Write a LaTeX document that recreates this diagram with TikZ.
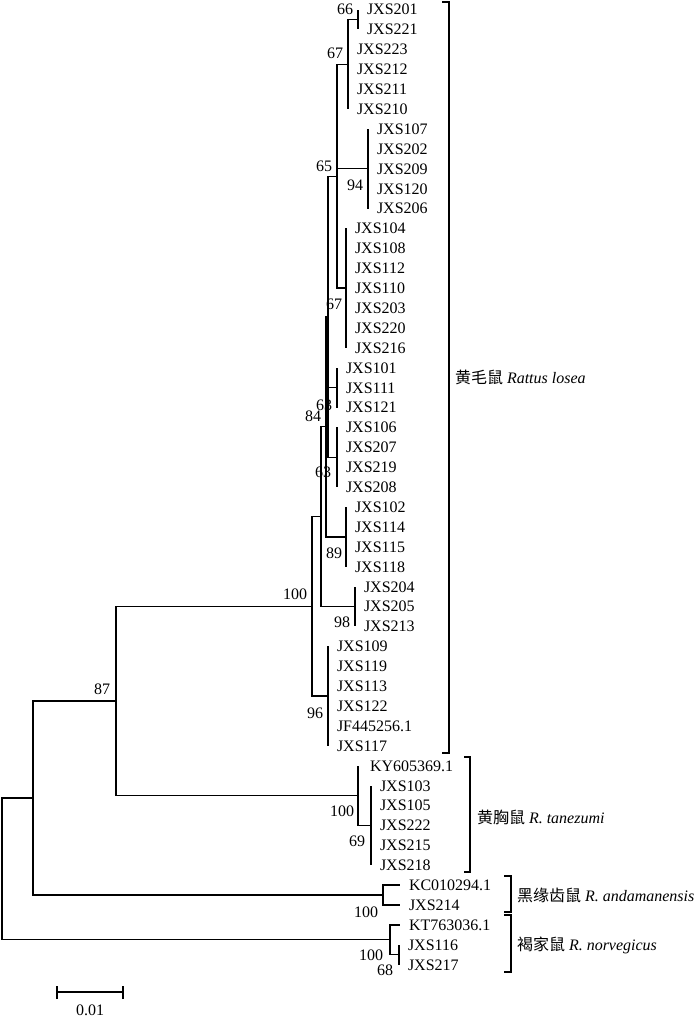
\documentclass[tikz,border=0pt]{standalone}
\usepackage{fontspec}
\setmainfont{Liberation Serif}
\newfontfamily\cjk{Noto Sans CJK SC}
\begin{document}
\begin{tikzpicture}[x=1pt,y=-1pt,
  br/.style={line width=1.3pt, draw=black},
  tip/.style={anchor=west, inner xsep=9pt, inner ysep=0pt, outer sep=0pt,
    text height=10.8pt, text depth=0pt, font=\fontsize{16}{18}\selectfont},
  bs/.style={anchor=east, inner sep=0pt, outer sep=0pt,
    text height=10.8pt, text depth=0pt, font=\fontsize{16}{18}\selectfont},
  lab/.style={anchor=west, inner sep=0pt, outer sep=0pt, font=\fontsize{16}{18}\selectfont}]
\useasboundingbox (0,0) rectangle (700,1021);

% ---------- tips ----------
\node[tip] (t0)  at (358,9.5)   {JXS201};
\node[tip] (t1)  at (358,29.4)  {JXS221};
\node[tip] (t2)  at (348,49.3)  {JXS223};
\node[tip] (t3)  at (348,69.2)  {JXS212};
\node[tip] (t4)  at (348,89.1)  {JXS211};
\node[tip] (t5)  at (348,109.0) {JXS210};
\node[tip] (t6)  at (368,128.9) {JXS107};
\node[tip] (t7)  at (368,148.8) {JXS202};
\node[tip] (t8)  at (368,168.7) {JXS209};
\node[tip] (t9)  at (368,188.6) {JXS120};
\node[tip] (t10) at (368,208.5) {JXS206};
\node[tip] (t11) at (346,228.4) {JXS104};
\node[tip] (t12) at (346,248.3) {JXS108};
\node[tip] (t13) at (346,268.2) {JXS112};
\node[tip] (t14) at (346,288.1) {JXS110};
\node[tip] (t15) at (346,308.0) {JXS203};
\node[tip] (t16) at (346,327.9) {JXS220};
\node[tip] (t17) at (346,347.8) {JXS216};
\node[tip] (t18) at (337,367.7) {JXS101};
\node[tip] (t19) at (337,387.6) {JXS111};
\node[tip] (t20) at (337,407.5) {JXS121};
\node[tip] (t21) at (337,427.4) {JXS106};
\node[tip] (t22) at (337,447.3) {JXS207};
\node[tip] (t23) at (337,467.2) {JXS219};
\node[tip] (t24) at (337,487.1) {JXS208};
\node[tip] (t25) at (346,507.0) {JXS102};
\node[tip] (t26) at (346,526.9) {JXS114};
\node[tip] (t27) at (346,546.8) {JXS115};
\node[tip] (t28) at (346,566.7) {JXS118};
\node[tip] (t29) at (355,586.6) {JXS204};
\node[tip] (t30) at (355,606.5) {JXS205};
\node[tip] (t31) at (355,626.4) {JXS213};
\node[tip] (t32) at (328,646.3) {JXS109};
\node[tip] (t33) at (328,666.2) {JXS119};
\node[tip] (t34) at (328,686.1) {JXS113};
\node[tip] (t35) at (328,706.0) {JXS122};
\node[tip] (t36) at (328,725.9) {JF445256.1};
\node[tip] (t37) at (328,745.8) {JXS117};
\node[tip, inner xsep=12pt] (t38) at (358,765.7) {KY605369.1};
\node[tip] (t39) at (371,785.6) {JXS103};
\node[tip] (t40) at (371,805.5) {JXS105};
\node[tip] (t41) at (371,825.4) {JXS222};
\node[tip] (t42) at (371,845.3) {JXS215};
\node[tip] (t43) at (371,865.2) {JXS218};
\node[tip] (t44) at (400,885.1) {KC010294.1};
\node[tip] (t45) at (400,905.0) {JXS214};
\node[tip] (t46) at (400,924.9) {KT763036.1};
\node[tip] (t47) at (399,944.8) {JXS116};
\node[tip] (t48) at (399,964.7) {JXS217};

% ---------- internal nodes ----------
\coordinate (A)    at (358,19.45);
\coordinate (B)    at (348,64.2);
\coordinate (C)    at (368,168.7);
\coordinate (E)    at (346,288.1);
\coordinate (D)    at (337,176.15);
\coordinate (G1)   at (337,387.6);
\coordinate (G2)   at (337,457.25);
\coordinate (J)    at (328,316.7);
\coordinate (H)    at (346,536.85);
\coordinate (N84)  at (326,426.8);
\coordinate (K)    at (355,606.5);
\coordinate (L)    at (321,516.65);
\coordinate (M)    at (328,696.05);
\coordinate (P)    at (312,606.35);
\coordinate (T69)  at (371,825.4);
\coordinate (T100) at (358,795.55);
\coordinate (Q)    at (116,700.95);
\coordinate (AND)  at (383,895.05);
\coordinate (R)    at (33,798);
\coordinate (N68)  at (399,954.75);
\coordinate (NOR)  at (390,939.8);
\coordinate (ROOT) at (2,868.9);

% ---------- branches ----------
\draw[br] (A) |- (t0.west) (A) |- (t1.west);
\draw[br] (B) |- (A) (B) |- (t2.west) (B) |- (t3.west) (B) |- (t4.west) (B) |- (t5.west);
\draw[br] (C) |- (t6.west) (C) |- (t7.west) (C) |- (t8.west) (C) |- (t9.west) (C) |- (t10.west);
\draw[br] (E) |- (t11.west) (E) |- (t12.west) (E) |- (t13.west) (E) |- (t14.west)
          (E) |- (t15.west) (E) |- (t16.west) (E) |- (t17.west);
\draw[br] (D) |- (B) (D) |- (C) (D) |- (E);
\draw[br] (G1) |- (t18.west) (G1) |- (t19.west) (G1) |- (t20.west);
\draw[br] (G2) |- (t21.west) (G2) |- (t22.west) (G2) |- (t23.west) (G2) |- (t24.west);
\draw[br] (J) |- (D) (J) |- (G1) (J) |- (G2);
\draw[br] (H) |- (t25.west) (H) |- (t26.west) (H) |- (t27.west) (H) |- (t28.west);
\draw[br] (N84) |- (J) (N84) |- (H);
\draw[br] (K) |- (t29.west) (K) |- (t30.west) (K) |- (t31.west);
\draw[br] (L) |- (N84) (L) |- (K);
\draw[br] (M) |- (t32.west) (M) |- (t33.west) (M) |- (t34.west) (M) |- (t35.west)
          (M) |- (t36.west) (M) |- (t37.west);
\draw[br] (P) |- (L) (P) |- (M);
\draw[br] (T69) |- (t39.west) (T69) |- (t40.west) (T69) |- (t41.west) (T69) |- (t42.west) (T69) |- (t43.west);
\draw[br] (T100) |- (t38.west) (T100) |- (T69);
\draw[br] (Q) |- (P) (Q) |- (T100);
\draw[br] (AND) |- (t44.west) (AND) |- (t45.west);
\draw[br] (R) |- (Q) (R) |- (AND);
\draw[br] (N68) |- (t47.west) (N68) |- (t48.west);
\draw[br] (NOR) |- (t46.west) (NOR) |- (N68);
\draw[br] (ROOT) |- (R) (ROOT) |- (NOR);

% ---------- bootstrap values ----------
\node[bs] (b1)  at ([shift={(-5,-10)}]A)    {66};
\node[bs] (b2)  at ([shift={(-5,-11)}]B)    {67};
\node[bs] (b3)  at ([shift={(-5,-10)}]D)    {65};
\node[bs] (b4)  at ([shift={(-5,16)}]C)     {94};
\node[bs] (b5)  at ([shift={(-4,16)}]E)     {67};
\node[bs] (b6)  at ([shift={(-5,17)}]G1)    {63};
\node[bs] (b7)  at ([shift={(-5,-11)}]N84)  {84};
\node[bs] (b8)  at ([shift={(-6,15)}]G2)    {63};
\node[bs] (b9)  at ([shift={(-4,16)}]H)     {89};
\node[bs] (b10) at ([shift={(-5,16)}]K)     {98};
\node[bs] (b11) at ([shift={(-5,-12)}]P)    {100};
\node[bs] (b12) at ([shift={(-5,17)}]M)     {96};
\node[bs] (b13) at ([shift={(-6,-12)}]Q)    {87};
\node[bs] (b14) at ([shift={(-4,16)}]T100)  {100};
\node[bs] (b15) at ([shift={(-6,16)}]T69)   {69};
\node[bs] (b16) at ([shift={(-5,17)}]AND)   {100};
\node[bs] (b17) at ([shift={(-7,15)}]NOR)   {100};
\node[bs] (b18) at ([shift={(-6,15)}]N68)   {68};

% ---------- clade brackets ----------
\draw[br] (442,2) -- (449,2) -- (449,753) -- (442,753);
\node[lab] (c1) at (455,377.5) {{\cjk 黄毛鼠} \textit{Rattus losea}};
\draw[br] (464,757) -- (470,757) -- (470,872) -- (464,872);
\node[lab] (c2) at (477,817) {{\cjk 黄胸鼠} \textit{R. tanezumi}};
\draw[br] (504,876) -- (511,876) -- (511,912) -- (504,912);
\node[lab] (c3) at (517,895) {{\cjk 黑缘齿鼠} \textit{R. andamanensis}};
\draw[br] (504,915) -- (511,915) -- (511,972) -- (504,972);
\node[lab] (c4) at (517,945) {{\cjk 褐家鼠} \textit{R. norvegicus}};

% ---------- scale bar ----------
\coordinate (s1) at (57,992);
\coordinate (s2) at (123,992);
\draw[br] (s1) -- (s2);
\draw[br] ([yshift=-7pt]s1) -- ([yshift=6pt]s1);
\draw[br] ([yshift=-7pt]s2) -- ([yshift=6pt]s2);
\node[bs, anchor=center] (sc) at (90,1010) {0.01};
\end{tikzpicture}
\end{document}
